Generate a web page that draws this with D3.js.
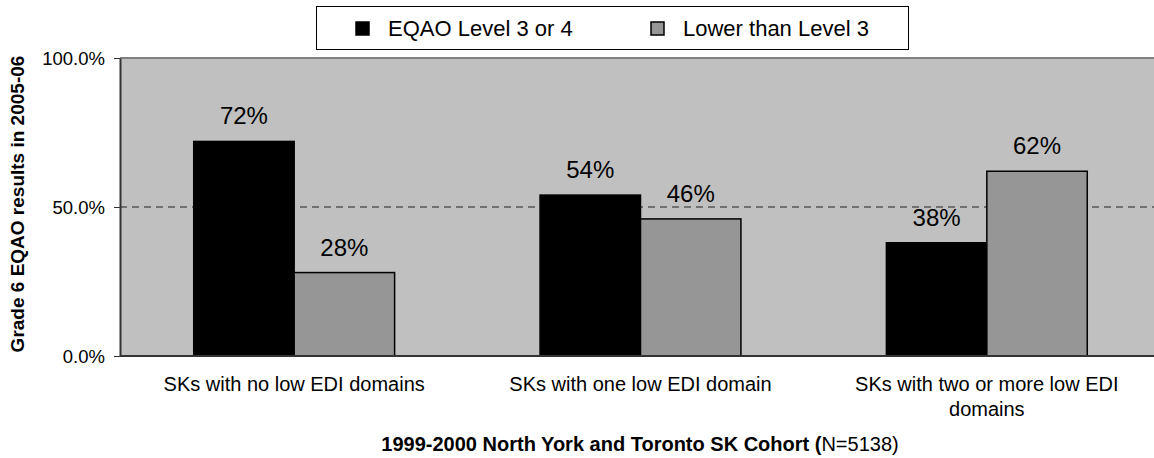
<html>
<head>
    <title>Grade 6 EQAO results by EDI domains</title>
    <script src="https://cdn.jsdelivr.net/npm/d3@7"></script>
    <style>
        body {
            margin: 0;
            background: #fff;
            font-family: Arial, "Liberation Sans", sans-serif;
        }
        svg text { fill: #000; }
    </style>
</head>
<body>
    <script>
    var width = 1154;
    var height = 458;

    // data
    var categories = ["SKs with no low EDI domains", "SKs with one low EDI domain", "SKs with two or more low EDI domains"];
    var seriesNames = ["EQAO Level 3 or 4", "Lower than Level 3"];
    var levelHigh = [72, 54, 38];
    var levelLow = [28, 46, 62];
    var yTicks = [0, 50, 100];

    var colors = ["#000000", "#969696"];
    var margin = {left: 120, top: 58, right: -6, bottom: 102};

    var svg = d3.select("body")
        .append("svg")
        .attr("width", width)
        .attr("height", height);

    var x0 = d3.scaleBand()
        .domain(categories)
        .range([margin.left + 1, width - margin.right])
        .paddingInner(0.42)
        .paddingOuter(0.21);

    var x1 = d3.scaleBand()
        .domain([0, 1])
        .range([0, x0.bandwidth()]);

    var y = d3.scaleLinear()
        .domain([0, 100])
        .range([height - margin.bottom, margin.top]);

    // plot background
    svg.append("rect")
        .attr("x", margin.left)
        .attr("y", y(100))
        .attr("width", width - margin.left)
        .attr("height", y(0) - y(100))
        .attr("fill", "#c0c0c0");

    svg.append("line")
        .attr("x1", margin.left).attr("x2", width)
        .attr("y1", y(100)).attr("y2", y(100))
        .attr("stroke", "#808080").attr("stroke-width", 2);

    // 50% dashed gridline
    svg.append("line")
        .attr("x1", margin.left).attr("x2", width)
        .attr("y1", y(50)).attr("y2", y(50))
        .attr("stroke", "#222").attr("stroke-width", 1)
        .attr("stroke-dasharray", "7,5");

    var rows = categories.map(function(c, i) {
        return {cat: c, values: [levelHigh[i], levelLow[i]]};
    });

    var groups = svg.selectAll(".grp")
        .data(rows)
        .enter()
        .append("g")
        .attr("class", "grp")
        .attr("transform", function(d) { return "translate(" + x0(d.cat) + ",0)"; });

    groups.selectAll("rect")
        .data(function(d) { return d.values; })
        .enter()
        .append("rect")
        .attr("x", function(d, i) { return x1(i); })
        .attr("y", function(d) { return y(d); })
        .attr("width", x1.bandwidth())
        .attr("height", function(d) { return y(0) - y(d); })
        .attr("fill", function(d, i) { return colors[i]; })
        .attr("stroke", "#000")
        .attr("stroke-width", 1.5);

    groups.selectAll(".val")
        .data(function(d) { return d.values; })
        .enter()
        .append("text")
        .attr("class", "val")
        .attr("x", function(d, i) { return x1(i) + x1.bandwidth() / 2; })
        .attr("y", function(d) { return y(d) - 17; })
        .attr("text-anchor", "middle")
        .style("font-size", "24px")
        .text(function(d) { return d + "%"; });

    // y axis
    var yAxis = svg.append("g")
        .attr("transform", "translate(" + margin.left + ",0)")
        .call(d3.axisLeft(y).tickValues(yTicks).tickSize(6).tickSizeOuter(0)
            .tickFormat(function(d) { return d.toFixed(1) + "%"; }));
    yAxis.select(".domain").attr("stroke", "#333").attr("stroke-width", 2);
    yAxis.selectAll(".tick line").attr("stroke", "#333");
    yAxis.selectAll(".tick text")
        .attr("x", -15)
        .attr("dy", "0.35em")
        .style("font-size", "18.5px")
        .style("font-family", "Arial, 'Liberation Sans', sans-serif");

    // x baseline
    svg.append("line")
        .attr("x1", margin.left).attr("x2", width)
        .attr("y1", y(0)).attr("y2", y(0))
        .attr("stroke", "#333").attr("stroke-width", 2);

    // category labels, wrapped like the original
    var catLines = [["SKs with no low EDI domains"], ["SKs with one low EDI domain"], ["SKs with two or more low EDI", "domains"]];
    categories.forEach(function(c, i) {
        var t = svg.append("text")
            .attr("x", x0(c) + x0.bandwidth() / 2)
            .attr("y", 391)
            .attr("text-anchor", "middle")
            .style("font-size", "20px");
        catLines[i].forEach(function(line, j) {
            t.append("tspan")
                .attr("x", x0(c) + x0.bandwidth() / 2)
                .attr("dy", j === 0 ? 0 : 25)
                .text(line);
        });
    });

    // axis titles
    svg.append("text")
        .attr("transform", "translate(24," + y(51) + ") rotate(-90)")
        .attr("text-anchor", "middle")
        .style("font-size", "19px")
        .style("font-weight", "bold")
        .text("Grade 6 EQAO results in 2005-06");

    var xt = svg.append("text")
        .attr("x", 640)
        .attr("y", 451)
        .attr("text-anchor", "middle")
        .style("font-size", "20px");
    xt.append("tspan").style("font-weight", "bold").text("1999-2000 North York and Toronto SK Cohort (");
    xt.append("tspan").text("N=5138)");

    // legend
    var legend = svg.append("g");
    legend.append("rect")
        .attr("x", 316.5).attr("y", 6.5)
        .attr("width", 592).attr("height", 43)
        .attr("fill", "#fff")
        .attr("stroke", "#000");
    var legX = [356, 651];
    seriesNames.forEach(function(name, i) {
        legend.append("rect")
            .attr("x", legX[i]).attr("y", 22)
            .attr("width", 13).attr("height", 13)
            .attr("fill", colors[i])
            .attr("stroke", "#000")
            .attr("stroke-width", 1.5);
        legend.append("text")
            .attr("x", legX[i] + 32)
            .attr("y", 36)
            .style("font-size", "22px")
            .text(name);
    });
    </script>
</body>
</html>
